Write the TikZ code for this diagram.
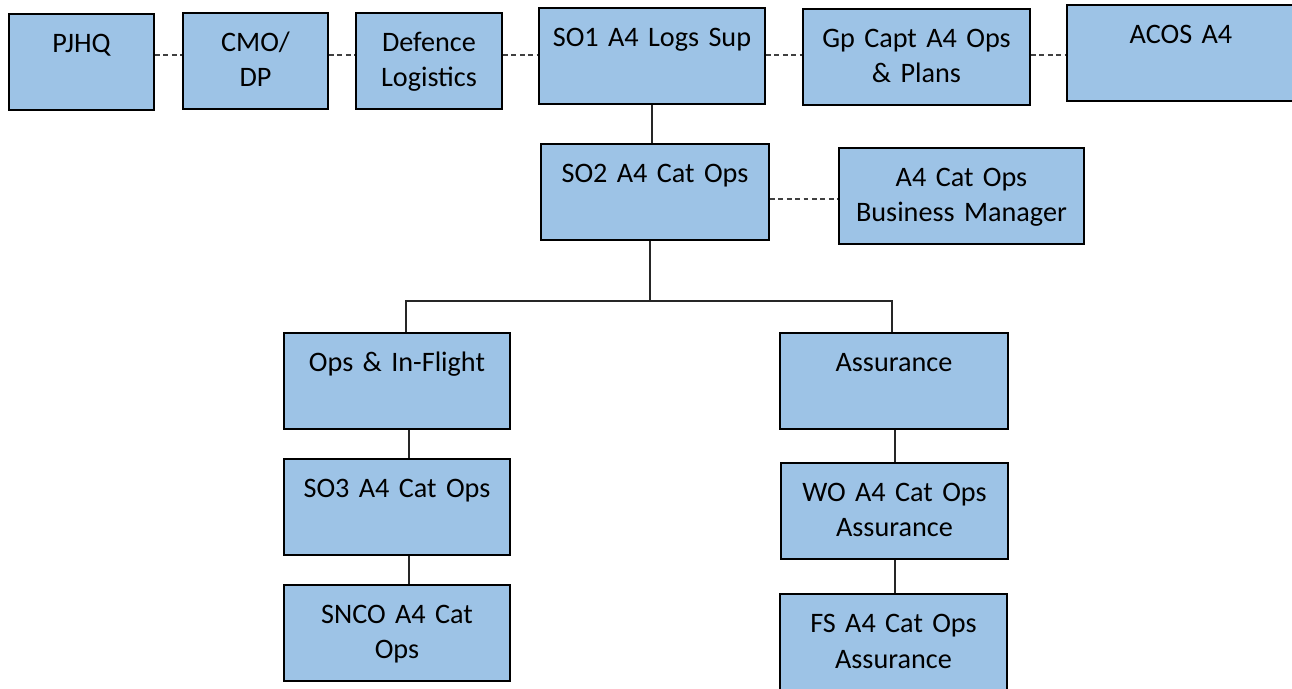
\documentclass[tikz,border=0pt]{standalone}
\usepackage{fontspec}
\setmainfont{Carlito}[WordSpace=0.8]
\usetikzlibrary{positioning}
\definecolor{boxBlue}{HTML}{9DC3E6}
\definecolor{dashGrey}{HTML}{404040}
\newcommand{\orgBox}[5]{%%
  %% name, left, top, width, text
  \node[boxStyle,text width=#4] (#1) at (#2,#3) {#5};
}
\newcommand{\dashLink}[3]{%%
  \draw[dashStyle] (#1.east |- #3) -- (#2.west |- #3);
}
\newcommand{\solidLink}[3]{%%
  \draw[lineStyle] (#1.south -| #3) -- (#2.north -| #3);
}

\begin{document}
\begin{tikzpicture}[%%
  x=0.5pt,y=-0.5pt,%%
  boxStyle/.style={draw,line width=1pt,fill=boxBlue,anchor=north west,%%
    inner sep=0pt,align=center,text height=19.5pt,text depth=28.5pt,%%
    font=\fontsize{14.1}{17.5}\selectfont},%%
  lineStyle/.style={-,line width=0.6pt,black!85},%%
  dashStyle/.style={-,line width=0.6pt,dashGrey,dash pattern=on 2.4pt off 1.8pt}%%
]
\useasboundingbox (0,0) rectangle (1292,689);
%%
%% Top row.
\orgBox{pjhq}{8}{13}{72.5pt}{PJHQ}
\orgBox{cmodp}{182}{12}{72.5pt}{CMO/\\DP}
\orgBox{deflog}{355}{12}{73pt}{Defence\\Logistics}
\orgBox{soone}{538}{7}{113pt}{SO1 A4 Logs Sup}
\orgBox{gpcapt}{802}{8}{113.5pt}{Gp Capt A4 Ops\\\& Plans}
\orgBox{acos}{1066}{4}{114pt}{ACOS A4}
%%
%% Second row.
\orgBox{sotwo}{540}{143}{114pt}{SO2 A4 Cat Ops}
\orgBox{bizman}{838}{147}{122.5pt}{A4 Cat Ops\\Business Manager}
%%
%% Left branch.
\orgBox{opsflight}{283}{332}{113pt}{Ops \& In-Flight}
\orgBox{sothree}{283}{458}{113pt}{SO3 A4 Cat Ops}
\orgBox{snco}{283}{584}{113pt}{SNCO A4 Cat\\Ops}
%%
%% Right branch.
\orgBox{assur}{779}{332}{114pt}{Assurance}
\orgBox{woassur}{780}{462}{113.5pt}{WO A4 Cat Ops\\Assurance}
\node[boxStyle,text width=113.5pt,text depth=30pt] (fsassur) at (779,593)
  {FS A4 Cat Ops\\Assurance};
%%
\coordinate (toplevel) at (0,55);
\coordinate (bizlevel) at (0,199);
\coordinate (bus) at (650,301);
\coordinate (busleft) at (406,301);
\coordinate (busright) at (892,301);
\coordinate (leftcol) at (409,0);
\coordinate (rightcol) at (895,0);
%%
%% Dashed links.
\dashLink{pjhq}{cmodp}{toplevel}
\dashLink{cmodp}{deflog}{toplevel}
\dashLink{deflog}{soone}{toplevel}
\dashLink{soone}{gpcapt}{toplevel}
\dashLink{gpcapt}{acos}{toplevel}
\dashLink{sotwo}{bizman}{bizlevel}
%%
%% Solid links.
\draw[lineStyle] (soone.south) -- (soone.south |- sotwo.north);
\draw[lineStyle] (sotwo.south -| bus) -- (bus);
\draw[lineStyle] (opsflight.north -| busleft) -- (busleft) -- (busright)
  -- (assur.north -| busright);
\solidLink{opsflight}{sothree}{leftcol}
\solidLink{sothree}{snco}{leftcol}
\solidLink{assur}{woassur}{rightcol}
\solidLink{woassur}{fsassur}{rightcol}
\end{tikzpicture}
\end{document}
